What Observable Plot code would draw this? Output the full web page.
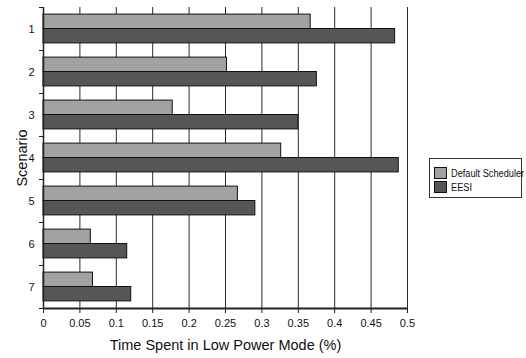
<!DOCTYPE html>
<html>
<head>
<meta charset="utf-8">
<script src="https://cdn.jsdelivr.net/npm/d3@7"></script>
<script src="https://cdn.jsdelivr.net/npm/@observablehq/plot@0.6"></script>
<style>
  html, body { margin: 0; padding: 0; background: #fff; }
  #chart { position: relative; width: 526px; height: 358px; font-family: "Liberation Sans", Arial, sans-serif; }
  .legend { position: absolute; left: 429px; top: 158px; width: 93px; height: 40px; box-sizing: border-box;
            border: 1px solid #333; background: #fff; font-size: 10px; color: #111; padding: 7px 0 0 4px; }
  .legend .row { display: flex; align-items: center; height: 14px; white-space: nowrap; }
  .legend .sw { width: 11px; height: 10px; border: 1px solid #111; margin-right: 4px; flex: none; }
  .legend .txt { display: inline-block; transform: scaleX(0.92); transform-origin: left center; }
</style>
</head>
<body>
<div id="chart"></div>
<script>
// Scenario numbers and fraction of time spent in low power mode
const scenarios = [1, 2, 3, 4, 5, 6, 7];
const defaultScheduler = [0.367, 0.252, 0.1775, 0.3265, 0.267, 0.065, 0.068];
const eesi = [0.483, 0.3755, 0.35, 0.488, 0.291, 0.115, 0.1205];

const seriesNames = ["Default Scheduler", "EESI"];
const seriesColors = ["#a2a2a2", "#565656"];
const xTicks = [0, 0.05, 0.1, 0.15, 0.2, 0.25, 0.3, 0.35, 0.4, 0.45, 0.5];

const rows = scenarios.flatMap((s, i) => [
  {scenario: s, series: seriesNames[0], value: defaultScheduler[i]},
  {scenario: s, series: seriesNames[1], value: eesi[i]}
]);

// each scenario band holds two bars: default above the scenario line, EESI below
const barSpan = 0.335;
const bounds = d3.range(0.5, scenarios.length + 1, 1);

const plot = Plot.plot({
  width: 526,
  height: 358,
  marginLeft: 43,
  marginRight: 119,
  marginTop: 7,
  marginBottom: 50,
  style: {fontFamily: "'Liberation Sans', Arial, sans-serif", fontSize: "11px", color: "#111"},
  x: {type: "linear", domain: [0, 0.5]},
  y: {type: "linear", domain: [0.5, scenarios.length + 0.5], reverse: true},
  color: {domain: seriesNames, range: seriesColors},
  marks: [
    Plot.gridX(xTicks, {stroke: "#2a2a2a", strokeOpacity: 1, strokeWidth: 1}),
    Plot.rect(rows, {
      x1: 0,
      x2: "value",
      y1: d => d.series === seriesNames[0] ? d.scenario - barSpan : d.scenario,
      y2: d => d.series === seriesNames[0] ? d.scenario : d.scenario + barSpan,
      fill: "series",
      stroke: "#111",
      strokeWidth: 1
    }),
    Plot.axisX(xTicks, {tickSize: 5, tickPadding: 6, tickFormat: d => String(d), stroke: "#222", fontSize: 11,
      label: "Time Spent in Low Power Mode (%)", labelAnchor: "center", labelArrow: "none", labelOffset: 41}),
    Plot.axisY(bounds, {tickSize: 4, tickFormat: () => "", stroke: "#222", label: null}),
    Plot.axisY(scenarios, {tickSize: 0, tickPadding: 9, fontSize: 11,
      label: "Scenario", labelAnchor: "center", labelArrow: "none", labelOffset: 27}),
    Plot.ruleX([0], {stroke: "#222", strokeWidth: 1.5}),
    Plot.ruleY([scenarios.length + 0.5], {stroke: "#222", strokeWidth: 2})
  ]
});

// Axis titles a little larger than the tick labels
plot.querySelectorAll("g[aria-label='x-axis label'] text, g[aria-label='y-axis label'] text").forEach(t => t.setAttribute("font-size", "14.5"));

const chart = document.getElementById("chart");
chart.appendChild(plot);

const legend = document.createElement("div");
legend.className = "legend";
seriesNames.forEach((name, i) => {
  const row = document.createElement("div");
  row.className = "row";
  const sw = document.createElement("span");
  sw.className = "sw";
  sw.style.background = seriesColors[i];
  const label = document.createElement("span");
  label.className = "txt";
  label.textContent = name;
  row.appendChild(sw);
  row.appendChild(label);
  legend.appendChild(row);
});
chart.appendChild(legend);
</script>
</body>
</html>
